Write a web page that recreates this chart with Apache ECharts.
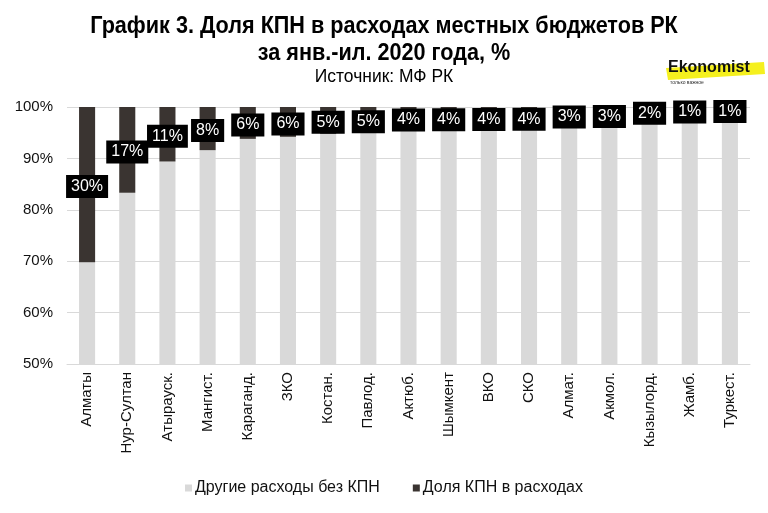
<!DOCTYPE html>
<html><head><meta charset="utf-8">
<script src="https://cdn.jsdelivr.net/npm/echarts@6/dist/echarts.min.js"></script>
<style>html,body{margin:0;padding:0;background:#fff}#c{width:768px;height:513px}</style>
</head><body><div id="c"></div>
<script>
const categories = ["Алматы","Нур-Султан","Атырауск.","Мангист.","Караганд.","ЗКО","Костан.","Павлод.","Актюб.","Шымкент","ВКО","СКО","Алмат.","Акмол.","Кызылорд.","Жамб.","Туркест."];
const kpnShare = [30.2,16.7,10.6,8.4,6.2,5.8,5.2,5.0,4.3,4.2,4.1,4.0,3.1,2.9,1.7,1.2,1.0];
const otherShare = [69.8,83.3,89.4,91.6,93.8,94.2,94.8,95.0,95.7,95.8,95.9,96.0,96.9,97.1,98.3,98.8,99.0];
const seriesNames = ["Другие расходы без КПН","Доля КПН в расходах"];
const yTicks = {min:50, max:100, interval:10};
const titleLines = ["График 3. Доля КПН в расходах местных бюджетов РК","за янв.-ил. 2020 года, %"];
const sourceText = "Источник: МФ РК";

const FONT = "Arial, 'Liberation Sans', sans-serif";
const chart = echarts.init(document.getElementById('c'));
chart.setOption({
  backgroundColor:'#fff',
  animation:false,
  graphic:[
    {type:'text', x:384, y:15, scaleX:0.94, style:{text:titleLines[0], textAlign:'center', textVerticalAlign:'top', fontFamily:FONT, fontSize:23, fontWeight:'bold', fill:'#000'}},
    {type:'text', x:384, y:42, scaleX:0.94, style:{text:titleLines[1], textAlign:'center', textVerticalAlign:'top', fontFamily:FONT, fontSize:23, fontWeight:'bold', fill:'#000'}},
    {type:'text', x:384, y:68, scaleX:0.97, style:{text:sourceText, textAlign:'center', textVerticalAlign:'top', fontFamily:FONT, fontSize:18, fill:'#000'}},
    {type:'polygon', shape:{points:[[666,68],[764,62],[765,74],[668,80]]}, style:{fill:'#f5f01e'}},
    {type:'text', x:668, y:60, style:{text:'Ekonomist', fontFamily:FONT, fontSize:16, fontWeight:'bold', fill:'#111'}},
    {type:'text', x:670, y:80, style:{text:'только важное', fontFamily:FONT, fontSize:5, fill:'#333'}}
  ],
  grid:{left:67, right:18, top:107, bottom:149},
  legend:{bottom:12, left:'center', itemWidth:7, itemHeight:7, itemGap:33, icon:'rect',
    textStyle:{fontFamily:FONT, fontSize:16, color:'#111', padding:[0,0,0,-2]}, data:seriesNames},
  xAxis:{type:'category', data:categories,
    axisLine:{lineStyle:{color:'#d9d9d9'}}, axisTick:{show:false},
    axisLabel:{rotate:90, interval:0, fontFamily:FONT, fontSize:15, color:'#111', margin:8}},
  yAxis:{type:'value', min:yTicks.min, max:yTicks.max, interval:yTicks.interval,
    axisLine:{show:false}, axisTick:{show:false},
    splitLine:{lineStyle:{color:'#d9d9d9', width:1}},
    axisLabel:{formatter:v=>v+'%', fontFamily:FONT, fontSize:15, color:'#111', margin:14}},
  series:[
    {name:seriesNames[0], type:'bar', stack:'s', data:otherShare, barWidth:'40%', itemStyle:{color:'#d9d9d9'}},
    {name:seriesNames[1], type:'bar', stack:'s', data:kpnShare, barWidth:'40%', itemStyle:{color:'#3a3431'},
     label:{show:true, position:'inside', formatter:p=>Math.round(p.value)+'%', color:'#fff', backgroundColor:'#000',
       fontFamily:FONT, fontSize:16, padding:[4,5,3,5], offset:[0,2]}}
  ]
});
</script></body></html>
